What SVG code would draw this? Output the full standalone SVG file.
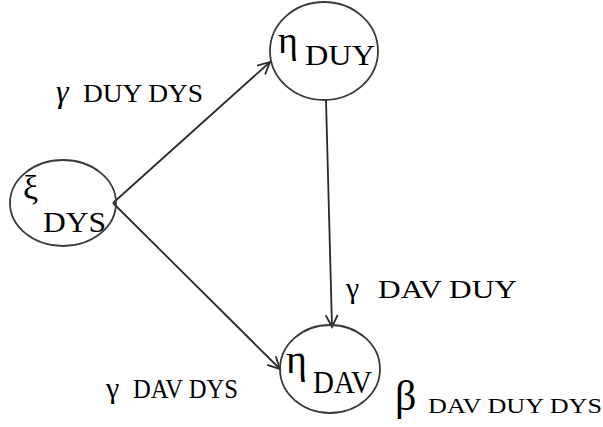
<svg xmlns="http://www.w3.org/2000/svg" width="603" height="427" viewBox="0 0 603 427">
  <style>
    .node { fill: none; stroke: #3a3a3a; stroke-width: 1.8; }
    .edge { fill: none; stroke: #2a2a2a; stroke-width: 1.8; }
    .t { font-family: "Liberation Serif", "Times New Roman", serif; fill: #000; }
  </style>
  <defs>
    <marker id="arrow" markerUnits="userSpaceOnUse" markerWidth="16" markerHeight="16" refX="13" refY="7" orient="auto">
      <path d="M1,1 L13,7 L1,13" fill="none" stroke="#2a2a2a" stroke-width="1.8"/>
    </marker>
  </defs>
  <rect width="603" height="427" fill="#fff"/>

  <g id="connectors">
    <line class="edge" x1="113" y1="203" x2="270" y2="62" marker-end="url(#arrow)"/>
    <line class="edge" x1="113" y1="203" x2="280" y2="369" marker-end="url(#arrow)"/>
    <line class="edge" x1="326" y1="100" x2="332" y2="327" marker-end="url(#arrow)"/>
  </g>

  <g id="node-dys">
    <ellipse class="node" cx="63" cy="203" rx="53" ry="43"/>
    <text class="t" x="23" y="199" font-size="34">ξ</text>
    <text class="t" x="43" y="232" font-size="30" textLength="63" lengthAdjust="spacingAndGlyphs">DYS</text>
  </g>

  <g id="node-duy">
    <ellipse class="node" cx="324" cy="51" rx="54" ry="49"/>
    <text class="t" x="278" y="53" font-size="38">η</text>
    <text class="t" x="305" y="65" font-size="30" textLength="70" lengthAdjust="spacingAndGlyphs">DUY</text>
  </g>

  <g id="node-dav">
    <ellipse class="node" cx="330" cy="369" rx="50" ry="44"/>
    <text class="t" x="286" y="373" font-size="40">η</text>
    <text class="t" x="313" y="393" font-size="31" textLength="59" lengthAdjust="spacingAndGlyphs">DAV</text>
  </g>

  <g id="labels">
    <text class="t" x="56" y="102" font-size="32" font-style="italic">γ</text>
    <text class="t" x="83" y="102" font-size="26" textLength="120" lengthAdjust="spacingAndGlyphs">DUY DYS</text>

    <text class="t" x="346" y="298" font-size="30">γ</text>
    <text class="t" x="378" y="298" font-size="26" textLength="139" lengthAdjust="spacingAndGlyphs">DAV DUY</text>

    <text class="t" x="106" y="398" font-size="30">γ</text>
    <text class="t" x="133" y="398" font-size="27" textLength="105" lengthAdjust="spacingAndGlyphs">DAV DYS</text>

    <text class="t" x="395" y="410" font-size="42">β</text>
    <text class="t" x="428" y="413" font-size="22" textLength="174" lengthAdjust="spacingAndGlyphs">DAV DUY DYS</text>
  </g>
</svg>
